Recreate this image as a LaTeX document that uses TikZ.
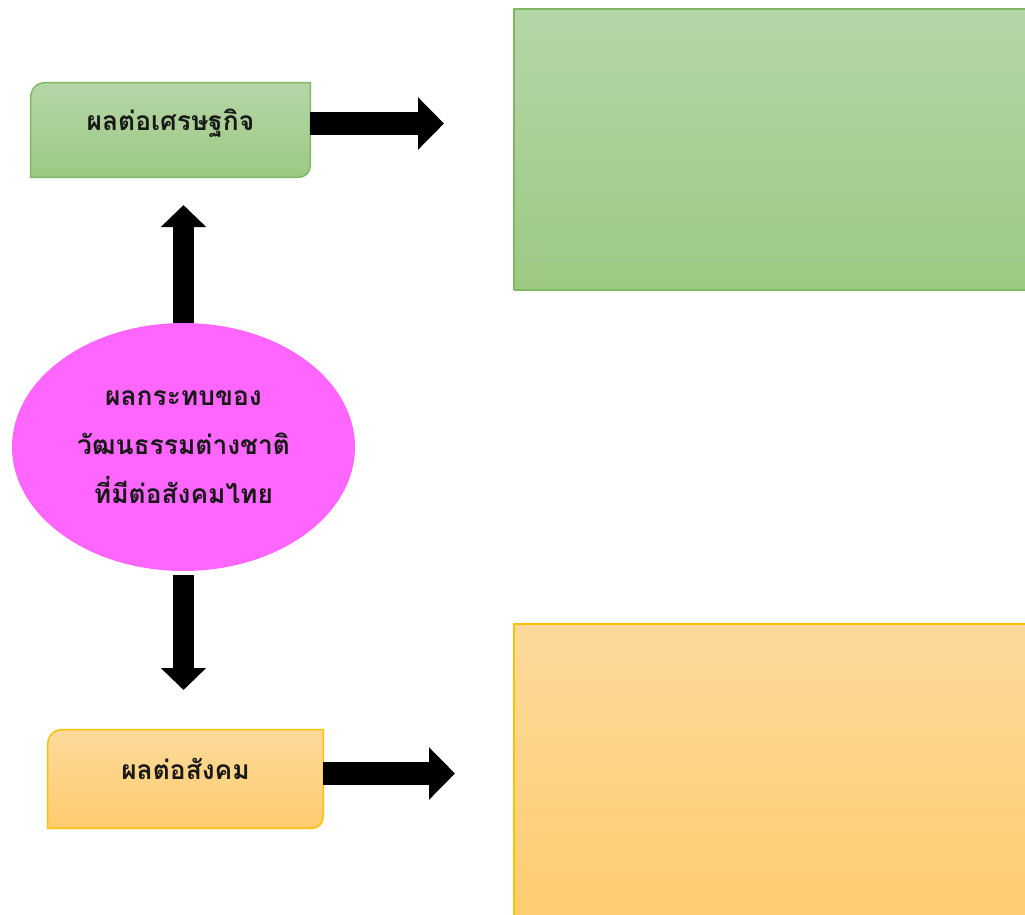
\documentclass[tikz,border=0pt]{standalone}
\usepackage{fontspec}
\newfontfamily\thaifont[Script=Thai]{Loma}
\usetikzlibrary{arrows.meta,shapes.geometric}
\pgfdeclarelayer{background}
\pgfsetlayers{background,main}
\definecolor{greentop}{HTML}{B5D6A7}
\definecolor{greenbot}{HTML}{9DC983}
\definecolor{greenline}{HTML}{7EB862}
\definecolor{orangetop}{HTML}{FDDA9B}
\definecolor{orangebot}{HTML}{FDCC6E}
\definecolor{orangeline}{HTML}{FFC000}
\definecolor{impactpink}{HTML}{FF66FF}
\begin{document}
\begin{tikzpicture}[x=0.02cm, y=-0.02cm, font=\fontsize{15}{28}\selectfont\thaifont\bfseries, line join=round,
  label/.style={inner sep=0pt, text=black!90},
  tablabel/.style={label, text height=0.35cm, text depth=0.35cm},
  greenfill/.style={draw=greenline, line width=0.03cm, top color=greentop, bottom color=greenbot},
  orangefill/.style={draw=orangeline, line width=0.03cm, top color=orangetop, bottom color=orangebot},
  widearrow/.style={line width=0.46cm, -{Triangle[length=0.52cm,width=1.02cm]}},
  tallarrow/.style={line width=0.44cm, -{Triangle[length=0.44cm,width=0.88cm]}}]
\useasboundingbox (0,0) rectangle (1025,914);
\clip (0,0) rectangle (1025,914);
\def\tabshape#1#2{\path[#2] (#1.south west) -- ([yshift=-0.3cm]#1.north west)
  .. controls ([yshift=-0.12cm]#1.north west) and ([xshift=0.12cm]#1.north west) .. ([xshift=0.3cm]#1.north west)
  -- (#1.north east) -- ([yshift=0.24cm]#1.south east)
  .. controls ([yshift=0.1cm]#1.south east) and ([xshift=-0.1cm]#1.south east) .. ([xshift=-0.24cm]#1.south east)
  -- cycle;}
\draw[greenfill] (514,9) rectangle (1040,290);
\draw[orangefill] (514,624) rectangle (1040,930);
\node[tablabel, minimum width=5.58cm, minimum height=1.88cm] (eco) at (170.5,130) {ผลต่อเศรษฐกิจ};
\node[tablabel, minimum width=5.5cm, minimum height=1.96cm] (soc) at (185.5,779) {ผลต่อสังคม};
\node[label, ellipse, fill=impactpink, minimum width=6.86cm, minimum height=4.96cm, align=center] (impact) at (183.5,447)
  {ผลกระทบของ\\วัฒนธรรมต่างชาติ\\ที่มีต่อสังคมไทย};
\begin{pgfonlayer}{background}
\tabshape{eco}{greenfill}
\tabshape{soc}{orangefill}
\end{pgfonlayer}
\coordinate (ecotip) at (444,123.5);
\coordinate (soctip) at (455,773.5);
\coordinate (uptip) at (183.5,205);
\coordinate (downtip) at (183.5,690);
\draw[widearrow] (eco.east |- ecotip) -- (ecotip);
\draw[widearrow] (soc.east |- soctip) -- (soctip);
\draw[tallarrow] (impact.north) -- (uptip);
\draw[tallarrow, shorten <=0.08cm] (impact.south) -- (downtip);
\end{tikzpicture}
\end{document}
